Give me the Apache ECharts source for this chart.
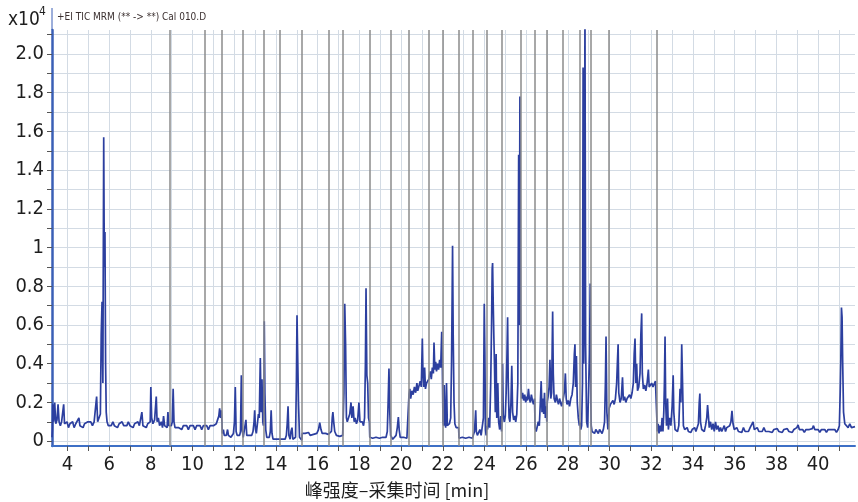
<!DOCTYPE html>
<html lang="zh">
<head>
<meta charset="UTF-8">
<title>TIC MRM Cal 010.D</title>
<style>
  html, body { margin: 0; padding: 0; background: #fff; }
  #main { width: 858px; height: 502px; }
</style>
<script src="https://cdn.jsdelivr.net/npm/echarts@6/dist/echarts.min.js"></script>
</head>
<body>
<div id="main"></div>
<script>
    // MRM 时间段分隔线 (min)
    var segmentTimes = [8.90, 10.58, 11.42, 12.41, 13.41, 14.17, 15.25, 16.52, 17.21, 18.49,
        19.52, 20.37, 21.35, 22.00, 22.77, 23.46, 24.09, 24.83, 25.74, 26.42, 27.00, 27.77,
        28.56, 29.11, 29.97, 32.28];

    var xTicks = [4, 5, 6, 7, 8, 9, 10, 11, 12, 13, 14, 15, 16, 17, 18, 19, 20, 21, 22, 23, 24,
        25, 26, 27, 28, 29, 30, 31, 32, 33, 34, 35, 36, 37, 38, 39, 40, 41];
    var xLabels = [4, 6, 8, 10, 12, 14, 16, 18, 20, 22, 24, 26, 28, 30, 32, 34, 36, 38, 40];
    var yTicks = [0, 0.1, 0.2, 0.3, 0.4, 0.5, 0.6, 0.7, 0.8, 0.9, 1, 1.1, 1.2, 1.3, 1.4, 1.5,
        1.6, 1.7, 1.8, 1.9, 2.0, 2.1];
    var yLabels = [0, 0.2, 0.4, 0.6, 0.8, 1, 1.2, 1.4, 1.6, 1.8, 2.0];

    // TIC 信号 [时间 min, 强度 x10^4]
    var ticEarly = [
        [3.26, 0.02], [3.28, 0.06], [3.30, 0.19], [3.34, 0.10], [3.39, 0.20], [3.44, 0.09], [3.50, 0.11],
        [3.55, 0.19], [3.60, 0.10], [3.66, 0.08], [3.72, 0.10], [3.78, 0.09], [3.82, 0.19], [3.86, 0.09],
        [3.92, 0.08], [3.98, 0.10], [4.05, 0.07], [4.12, 0.09], [4.18, 0.08], [4.25, 0.10], [4.32, 0.07],
        [4.40, 0.09], [4.48, 0.08], [4.55, 0.12], [4.60, 0.08], [4.68, 0.09], [4.75, 0.07], [4.82, 0.09],
        [4.90, 0.08], [4.98, 0.10], [5.05, 0.09], [5.12, 0.10], [5.20, 0.08], [5.28, 0.10], [5.35, 0.09],
        [5.40, 0.23], [5.45, 0.10], [5.52, 0.11], [5.58, 0.14], [5.62, 0.55], [5.66, 0.72], [5.70, 0.30],
        [5.74, 1.57], [5.77, 0.90], [5.80, 1.08], [5.83, 0.40], [5.86, 0.15], [5.90, 0.10], [5.96, 0.08],
        [6.04, 0.09], [6.10, 0.08], [6.18, 0.10], [6.25, 0.08], [6.32, 0.09], [6.40, 0.07], [6.48, 0.09],
        [6.55, 0.08], [6.62, 0.10], [6.70, 0.08], [6.78, 0.09], [6.85, 0.08], [6.92, 0.10], [7.00, 0.08],
        [7.08, 0.09], [7.15, 0.07], [7.22, 0.09], [7.30, 0.08], [7.38, 0.10], [7.45, 0.08], [7.52, 0.09],
        [7.57, 0.15], [7.62, 0.08], [7.70, 0.09], [7.78, 0.07], [7.85, 0.09], [7.92, 0.08], [7.97, 0.10],
        [8.00, 0.28], [8.04, 0.12], [8.10, 0.09], [8.18, 0.11], [8.26, 0.23], [8.30, 0.10], [8.36, 0.12],
        [8.42, 0.08], [8.50, 0.10], [8.56, 0.07], [8.61, 0.13], [8.66, 0.08], [8.72, 0.09], [8.78, 0.07],
        [8.82, 0.15], [8.86, 0.08], [8.92, 0.07], [8.98, 0.08], [9.03, 0.10], [9.07, 0.27], [9.11, 0.10],
        [9.16, 0.07], [9.24, 0.08], [9.32, 0.07], [9.40, 0.08], [9.48, 0.06], [9.56, 0.08], [9.64, 0.07],
        [9.72, 0.08], [9.80, 0.06], [9.88, 0.08], [9.96, 0.07], [10.04, 0.08], [10.12, 0.06], [10.20, 0.08],
        [10.28, 0.07], [10.36, 0.08], [10.44, 0.06], [10.52, 0.08], [10.60, 0.07], [10.68, 0.08],
        [10.76, 0.06], [10.84, 0.08], [10.92, 0.07], [11.00, 0.08], [11.08, 0.07], [11.14, 0.09],
        [11.20, 0.11], [11.26, 0.13], [11.30, 0.17], [11.34, 0.12], [11.38, 0.16], [11.41, 0.10]
    ];

    var ticMid = [
        [11.43, 0.04], [11.48, 0.06], [11.52, 0.03], [11.58, 0.04], [11.62, 0.03], [11.68, 0.06],
        [11.72, 0.03], [11.78, 0.04], [11.84, 0.02], [11.90, 0.03], [11.96, 0.04], [12.01, 0.10],
        [12.05, 0.28], [12.09, 0.05], [12.14, 0.03], [12.20, 0.04], [12.26, 0.03], [12.30, 0.05],
        [12.34, 0.34], [12.38, 0.06],
        [12.43, 0.02], [12.50, 0.03], [12.56, 0.11], [12.60, 0.03], [12.66, 0.02], [12.72, 0.03],
        [12.78, 0.02], [12.84, 0.03], [12.90, 0.05], [12.95, 0.10], [12.98, 0.16], [13.02, 0.06],
        [13.06, 0.04], [13.12, 0.10], [13.16, 0.14], [13.20, 0.12], [13.25, 0.43], [13.29, 0.15],
        [13.33, 0.32], [13.37, 0.10], [13.40, 0.08],
        [13.42, 0.20], [13.44, 0.62], [13.47, 0.25], [13.51, 0.06], [13.56, 0.02], [13.62, 0.01],
        [13.68, 0.02], [13.73, 0.05], [13.77, 0.16], [13.81, 0.04], [13.86, 0.01], [13.92, 0.005],
        [14.00, 0.01], [14.08, 0.005], [14.16, 0.01],
        [14.20, 0.005], [14.28, 0.01], [14.36, 0.005], [14.44, 0.01], [14.50, 0.03], [14.54, 0.09],
        [14.58, 0.18], [14.62, 0.03], [14.68, 0.01], [14.72, 0.05], [14.77, 0.07], [14.81, 0.01],
        [14.88, 0.005], [14.94, 0.02], [14.98, 0.30], [15.01, 0.65], [15.04, 0.64], [15.08, 0.20],
        [15.13, 0.02], [15.20, 0.01], [15.24, 0.005],
        [15.26, 0.04], [15.32, 0.03], [15.40, 0.04], [15.48, 0.035], [15.56, 0.045], [15.64, 0.03],
        [15.72, 0.04], [15.80, 0.035], [15.88, 0.045], [15.96, 0.04], [16.04, 0.06], [16.10, 0.095],
        [16.16, 0.06], [16.22, 0.04], [16.30, 0.03], [16.38, 0.04], [16.46, 0.03], [16.51, 0.035],
        [16.53, 0.03], [16.60, 0.04], [16.66, 0.05], [16.70, 0.12], [16.73, 0.15], [16.77, 0.10],
        [16.82, 0.05], [16.90, 0.03], [16.98, 0.04], [17.06, 0.025], [17.14, 0.03], [17.20, 0.03],
        [17.22, 0.10], [17.26, 0.25], [17.30, 0.71], [17.34, 0.50], [17.38, 0.12], [17.42, 0.10],
        [17.48, 0.09], [17.54, 0.14], [17.60, 0.20], [17.64, 0.12], [17.70, 0.18], [17.75, 0.10],
        [17.80, 0.12], [17.86, 0.09], [17.92, 0.11], [17.98, 0.20], [18.03, 0.10], [18.08, 0.09],
        [18.14, 0.10], [18.20, 0.08], [18.25, 0.12], [18.29, 0.40], [18.32, 0.79], [18.36, 0.34],
        [18.40, 0.30], [18.44, 0.12], [18.48, 0.10],
        [18.50, 0.02], [18.56, 0.01], [18.64, 0.015], [18.72, 0.01], [18.80, 0.02], [18.88, 0.01],
        [18.96, 0.015], [19.04, 0.01], [19.12, 0.02], [19.20, 0.01], [19.28, 0.02], [19.34, 0.05],
        [19.38, 0.20], [19.42, 0.375], [19.46, 0.15], [19.50, 0.03],
        [19.53, 0.02], [19.60, 0.01], [19.68, 0.02], [19.76, 0.03], [19.82, 0.07], [19.87, 0.125],
        [19.91, 0.06], [19.96, 0.02], [20.04, 0.015], [20.12, 0.02], [20.20, 0.01], [20.28, 0.015],
        [20.36, 0.01]
    ];

    var ticBusy = [
        [20.38, 0.24], [20.42, 0.27], [20.46, 0.22], [20.52, 0.26], [20.58, 0.24], [20.64, 0.28],
        [20.70, 0.25], [20.76, 0.30], [20.80, 0.26], [20.86, 0.27], [20.92, 0.31], [20.97, 0.28],
        [21.02, 0.53], [21.05, 0.35], [21.09, 0.28], [21.13, 0.38], [21.17, 0.27], [21.22, 0.30],
        [21.28, 0.29], [21.33, 0.32],
        [21.36, 0.33], [21.40, 0.36], [21.45, 0.32], [21.50, 0.38], [21.55, 0.35], [21.58, 0.51],
        [21.62, 0.37], [21.66, 0.41], [21.70, 0.36], [21.75, 0.40], [21.80, 0.37], [21.85, 0.42],
        [21.90, 0.38], [21.95, 0.565], [21.98, 0.40],
        [22.01, 0.10], [22.04, 0.08], [22.07, 0.29], [22.10, 0.10], [22.14, 0.07], [22.18, 0.30],
        [22.22, 0.08], [22.27, 0.07], [22.32, 0.09], [22.38, 0.12], [22.42, 0.40], [22.45, 0.75],
        [22.47, 1.01], [22.50, 0.55], [22.54, 0.20], [22.58, 0.09], [22.64, 0.07], [22.70, 0.08],
        [22.76, 0.07],
        [22.78, 0.015], [22.86, 0.01], [22.94, 0.02], [23.02, 0.01], [23.10, 0.015], [23.18, 0.01],
        [23.26, 0.02], [23.34, 0.01], [23.42, 0.015],
        [23.47, 0.02], [23.52, 0.05], [23.56, 0.12], [23.58, 0.16], [23.61, 0.05], [23.66, 0.03],
        [23.72, 0.02], [23.78, 0.06], [23.84, 0.03], [23.90, 0.02], [23.95, 0.12], [23.99, 0.71],
        [24.02, 0.45], [24.05, 0.06], [24.08, 0.03],
        [24.10, 0.08], [24.15, 0.06], [24.20, 0.12], [24.25, 0.07], [24.30, 0.30], [24.34, 0.60],
        [24.37, 0.89], [24.39, 0.92], [24.42, 0.71], [24.45, 0.54], [24.48, 0.40], [24.52, 0.15],
        [24.56, 0.45], [24.59, 0.12], [24.64, 0.30], [24.68, 0.10], [24.73, 0.06], [24.78, 0.13],
        [24.82, 0.05],
        [24.84, 0.12], [24.87, 0.40], [24.90, 0.14], [24.95, 0.10], [25.00, 0.13], [25.04, 0.25],
        [25.08, 0.45], [25.11, 0.64], [25.14, 0.30], [25.18, 0.12], [25.22, 0.10], [25.27, 0.20],
        [25.31, 0.39], [25.35, 0.15], [25.40, 0.11], [25.46, 0.13], [25.50, 0.10], [25.55, 0.14],
        [25.60, 0.30], [25.64, 1.48], [25.67, 0.60], [25.70, 1.78], [25.73, 0.70],
        [25.75, 0.30], [25.78, 0.22], [25.83, 0.25], [25.88, 0.21], [25.93, 0.24], [25.98, 0.20],
        [26.02, 0.23], [26.06, 0.21], [26.11, 0.27], [26.15, 0.22], [26.20, 0.20], [26.25, 0.24],
        [26.30, 0.21], [26.35, 0.19], [26.40, 0.22],
        [26.43, 0.07], [26.48, 0.05], [26.53, 0.06], [26.58, 0.10], [26.63, 0.08], [26.68, 0.20],
        [26.72, 0.31], [26.76, 0.15], [26.80, 0.22], [26.84, 0.14], [26.88, 0.25], [26.92, 0.12],
        [26.96, 0.18], [26.99, 0.10],
        [27.01, 0.20], [27.05, 0.23], [27.10, 0.28], [27.14, 0.42], [27.18, 0.22], [27.22, 0.25],
        [27.27, 0.67], [27.30, 0.35], [27.34, 0.22], [27.40, 0.20], [27.45, 0.24], [27.50, 0.21],
        [27.55, 0.19], [27.60, 0.22], [27.65, 0.20], [27.70, 0.18], [27.76, 0.21],
        [27.78, 0.22], [27.84, 0.26], [27.88, 0.35], [27.92, 0.22], [27.96, 0.19], [28.02, 0.21],
        [28.08, 0.18], [28.14, 0.22], [28.20, 0.24], [28.26, 0.30], [28.31, 0.45], [28.34, 0.50],
        [28.37, 0.28], [28.41, 0.44], [28.45, 0.20], [28.50, 0.12], [28.55, 0.08],
        [28.57, 0.10], [28.62, 0.06], [28.66, 0.08], [28.70, 0.30], [28.73, 1.93], [28.76, 0.40],
        [28.79, 0.80], [28.82, 2.25], [28.85, 0.50], [28.90, 0.10], [28.95, 0.07], [29.00, 0.30],
        [29.04, 0.45], [29.07, 0.815], [29.10, 0.20],
        [29.12, 0.08], [29.16, 0.05], [29.22, 0.06], [29.28, 0.04], [29.34, 0.06], [29.40, 0.05],
        [29.46, 0.04], [29.52, 0.06], [29.58, 0.05], [29.64, 0.04], [29.70, 0.06], [29.76, 0.10],
        [29.80, 0.30], [29.83, 0.54], [29.87, 0.15], [29.92, 0.06], [29.96, 0.05],
        [29.98, 0.17], [30.04, 0.19], [30.10, 0.18], [30.16, 0.21], [30.22, 0.19], [30.28, 0.22],
        [30.34, 0.30], [30.38, 0.42], [30.41, 0.50], [30.44, 0.25], [30.50, 0.20], [30.56, 0.22],
        [30.62, 0.33], [30.66, 0.21], [30.72, 0.23], [30.78, 0.20], [30.84, 0.22], [30.90, 0.21],
        [30.96, 0.24], [31.02, 0.22], [31.08, 0.25], [31.14, 0.30], [31.18, 0.45], [31.22, 0.53],
        [31.26, 0.30], [31.30, 0.40], [31.34, 0.26], [31.40, 0.28], [31.46, 0.35], [31.50, 0.55],
        [31.54, 0.66], [31.57, 0.35], [31.62, 0.27], [31.68, 0.29], [31.74, 0.26], [31.80, 0.30],
        [31.86, 0.37], [31.90, 0.28], [31.96, 0.27], [32.02, 0.30], [32.08, 0.28], [32.14, 0.29],
        [32.20, 0.31], [32.27, 0.30]
    ];

    var ticLate = [
        [32.29, 0.05], [32.33, 0.09], [32.37, 0.04], [32.42, 0.08], [32.47, 0.05], [32.52, 0.12],
        [32.56, 0.05], [32.60, 0.15], [32.63, 0.30], [32.66, 0.54], [32.69, 0.20], [32.73, 0.08],
        [32.78, 0.22], [32.82, 0.06], [32.88, 0.12], [32.94, 0.08], [33.00, 0.18], [33.05, 0.34],
        [33.08, 0.15], [33.14, 0.06], [33.20, 0.07], [33.26, 0.05], [33.32, 0.08], [33.38, 0.27],
        [33.42, 0.20], [33.46, 0.50], [33.50, 0.30], [33.54, 0.08], [33.60, 0.06], [33.66, 0.05],
        [33.72, 0.07], [33.78, 0.05], [33.84, 0.06], [33.90, 0.045], [33.96, 0.06], [34.02, 0.05],
        [34.08, 0.07], [34.14, 0.05], [34.20, 0.06], [34.26, 0.09], [34.30, 0.20], [34.33, 0.246],
        [34.36, 0.10], [34.42, 0.06], [34.48, 0.07], [34.54, 0.05], [34.60, 0.08], [34.66, 0.12],
        [34.70, 0.186], [34.74, 0.13], [34.78, 0.07], [34.84, 0.10], [34.90, 0.06], [34.96, 0.09],
        [35.02, 0.05], [35.08, 0.10], [35.14, 0.06], [35.20, 0.08], [35.26, 0.05], [35.32, 0.07],
        [35.38, 0.05], [35.44, 0.06], [35.50, 0.08], [35.56, 0.05], [35.62, 0.07], [35.70, 0.06],
        [35.76, 0.08], [35.82, 0.10], [35.87, 0.157], [35.92, 0.09], [35.98, 0.06], [36.04, 0.05],
        [36.10, 0.07], [36.18, 0.05], [36.26, 0.06], [36.34, 0.045], [36.42, 0.07], [36.50, 0.05],
        [36.58, 0.06], [36.66, 0.05], [36.74, 0.07], [36.82, 0.06], [36.88, 0.10], [36.94, 0.06],
        [37.00, 0.05], [37.08, 0.07], [37.16, 0.05], [37.24, 0.06], [37.32, 0.05], [37.40, 0.07],
        [37.48, 0.05], [37.56, 0.06], [37.64, 0.05], [37.72, 0.06], [37.80, 0.045], [37.88, 0.06],
        [37.96, 0.05], [38.04, 0.065], [38.12, 0.05], [38.20, 0.06], [38.28, 0.045], [38.36, 0.06],
        [38.44, 0.05], [38.52, 0.065], [38.60, 0.05], [38.68, 0.06], [38.76, 0.045], [38.84, 0.06],
        [38.92, 0.05], [38.98, 0.07], [39.04, 0.084], [39.10, 0.06], [39.18, 0.05], [39.26, 0.06],
        [39.34, 0.045], [39.42, 0.06], [39.50, 0.05], [39.58, 0.06], [39.66, 0.05], [39.72, 0.065],
        [39.78, 0.08], [39.84, 0.06], [39.92, 0.05], [40.00, 0.06], [40.08, 0.045], [40.16, 0.06],
        [40.24, 0.05], [40.32, 0.06], [40.40, 0.045], [40.48, 0.06], [40.56, 0.05], [40.64, 0.06],
        [40.72, 0.05], [40.80, 0.06], [40.88, 0.045], [40.96, 0.06], [41.02, 0.08], [41.06, 0.25],
        [41.09, 0.42], [41.12, 0.69], [41.15, 0.64], [41.18, 0.40], [41.22, 0.15], [41.28, 0.09],
        [41.36, 0.08], [41.44, 0.07], [41.52, 0.09], [41.60, 0.07], [41.68, 0.08], [41.77, 0.075]
    ];

    var ticData = ticEarly.concat(ticMid, ticBusy, ticLate);

    var numFont = "'Liberation Sans Narrow', 'DejaVu Sans Condensed', 'Roboto', sans-serif";

    var chart = echarts.init(document.getElementById('main'));

    var option = {
        animation: false,
        backgroundColor: '#fff',
        grid: { left: 52, right: 3, top: 30, bottom: 56 },
        xAxis: {
            type: 'value',
            min: 3.26,
            max: 41.77,
            axisLine: { onZero: false, lineStyle: { color: '#3d6fc6', width: 2 } },
            axisTick: { customValues: xTicks, length: 5, lineStyle: { color: '#555' } },
            axisLabel: {
                customValues: xLabels,
                margin: 9,
                fontSize: 20,
                fontFamily: numFont,
                color: '#1e1e1e'
            },
            splitLine: { show: true, lineStyle: { color: '#d3dbe4', width: 1 } }
        },
        yAxis: {
            type: 'value',
            min: -0.025,
            max: 2.124,
            axisLine: { show: true, onZero: false, lineStyle: { color: '#3a5fb6', width: 2.5 } },
            axisTick: { show: true, customValues: yTicks, length: 5, lineStyle: { color: '#555' } },
            axisLabel: {
                customValues: yLabels,
                margin: 8,
                fontSize: 20,
                fontFamily: numFont,
                color: '#1e1e1e',
                formatter: function (v) {
                    return (v === 0 || v === 1) ? String(v) : v.toFixed(1);
                }
            },
            splitLine: { show: true, lineStyle: { color: '#d3dbe4', width: 1 } }
        },
        graphic: [
            {
                type: 'text', left: 57, top: 12,
                style: { text: '+EI TIC MRM (** -> **) Cal 010.D', fontSize: 10, fontFamily: numFont, fill: '#3b3030' }
            },
            {
                type: 'text', left: 8, top: 11,
                style: { text: 'x10', fontSize: 19, fontFamily: numFont, fill: '#1e1e1e' }
            },
            {
                type: 'text', left: 39, top: 6,
                style: { text: '4', fontSize: 12, fontFamily: numFont, fill: '#1e1e1e' }
            },
            {
                type: 'line', shape: { x1: 52, y1: 8, x2: 52, y2: 30 },
                style: { stroke: '#3a5fb6', lineWidth: 1 }
            },
            {
                type: 'text', x: 397, y: 490,
                style: {
                    text: '峰强度–采集时间 [min]', fontSize: 18,
                    fontFamily: "'Noto Sans CJK SC', sans-serif", fill: '#1e1e1e',
                    align: 'center', verticalAlign: 'middle'
                }
            }
        ],
        series: [
            {
                name: 'segments',
                type: 'line',
                data: [],
                silent: true,
                z: 1,
                markLine: {
                    silent: true,
                    symbol: ['none', 'none'],
                    label: { show: false },
                    lineStyle: { color: '#8b8b8b', width: 1.5, type: 'solid' },
                    emphasis: { disabled: true },
                    data: segmentTimes.map(function (t) { return { xAxis: t }; })
                }
            },
            {
                name: 'TIC',
                type: 'line',
                data: ticData,
                showSymbol: false,
                symbol: 'none',
                z: 3,
                lineStyle: { color: '#2c3f9f', width: 1.7 }
            }
        ]
    };

    chart.setOption(option);

    window.onresize = function () {
        chart.resize();
    };
</script>
</body>
</html>
